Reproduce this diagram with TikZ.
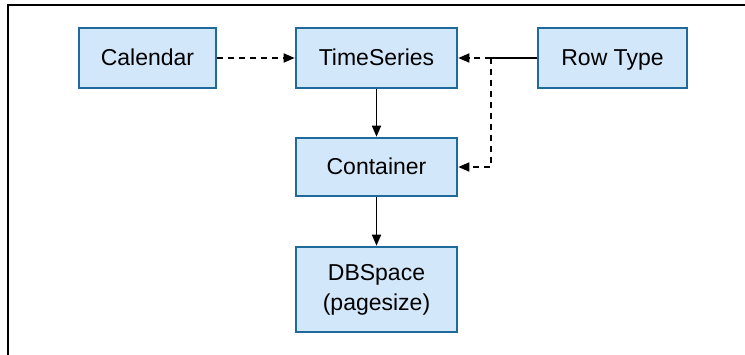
\documentclass[tikz,border=0pt]{standalone}
\usepackage{fontspec}
\setmainfont{Liberation Sans}
\usetikzlibrary{arrows.meta}
\definecolor{boxfill}{HTML}{D3E7FB}
\definecolor{boxline}{HTML}{1E6A9C}
\tikzset{
  box/.style={draw=boxline, fill=boxfill, line width=2.6pt, inner sep=0pt, align=center,
    font=\fontsize{23}{30}\selectfont},
  onebox/.style={box, text height=18pt, text depth=2pt},
  conn/.style={line width=1.7pt, -{Triangle[length=11pt,width=9pt]}},
  dconn/.style={conn, dash pattern=on 6pt off 5pt},
  frame/.style={line width=1.6pt}
}
\begin{document}
\begin{tikzpicture}[x=1pt,y=-1pt]
\useasboundingbox (0,0) rectangle (745,355);
\draw[frame] (8,355) -- (8,5) -- (745,5);
\node[onebox, minimum width=137pt, minimum height=60pt] (cal) at (147.5,58) {Calendar};
\node[onebox, minimum width=161pt, minimum height=60pt] (ts) at (376.5,58) {TimeSeries};
\node[onebox, minimum width=149pt, minimum height=60pt] (rt) at (612.5,58) {Row Type};
\node[onebox, minimum width=161pt, minimum height=58pt] (co) at (376.5,167) {Container};
\node[box, minimum width=161pt, minimum height=85pt] (db) at (376.5,289.5) {DBSpace\\(pagesize)};
\coordinate (j) at (491,58);
\coordinate (k) at (491,167);
\draw[dconn] (cal) -- (ts);
\draw[conn] (ts) -- (co);
\draw[conn] (co) -- (db);
\draw[line width=1.7pt] (rt.west) -- (j);
\draw[dconn] (j) -- (ts.east);
\draw[dconn] (j) -- (k) -- (co.east);
\end{tikzpicture}
\end{document}
